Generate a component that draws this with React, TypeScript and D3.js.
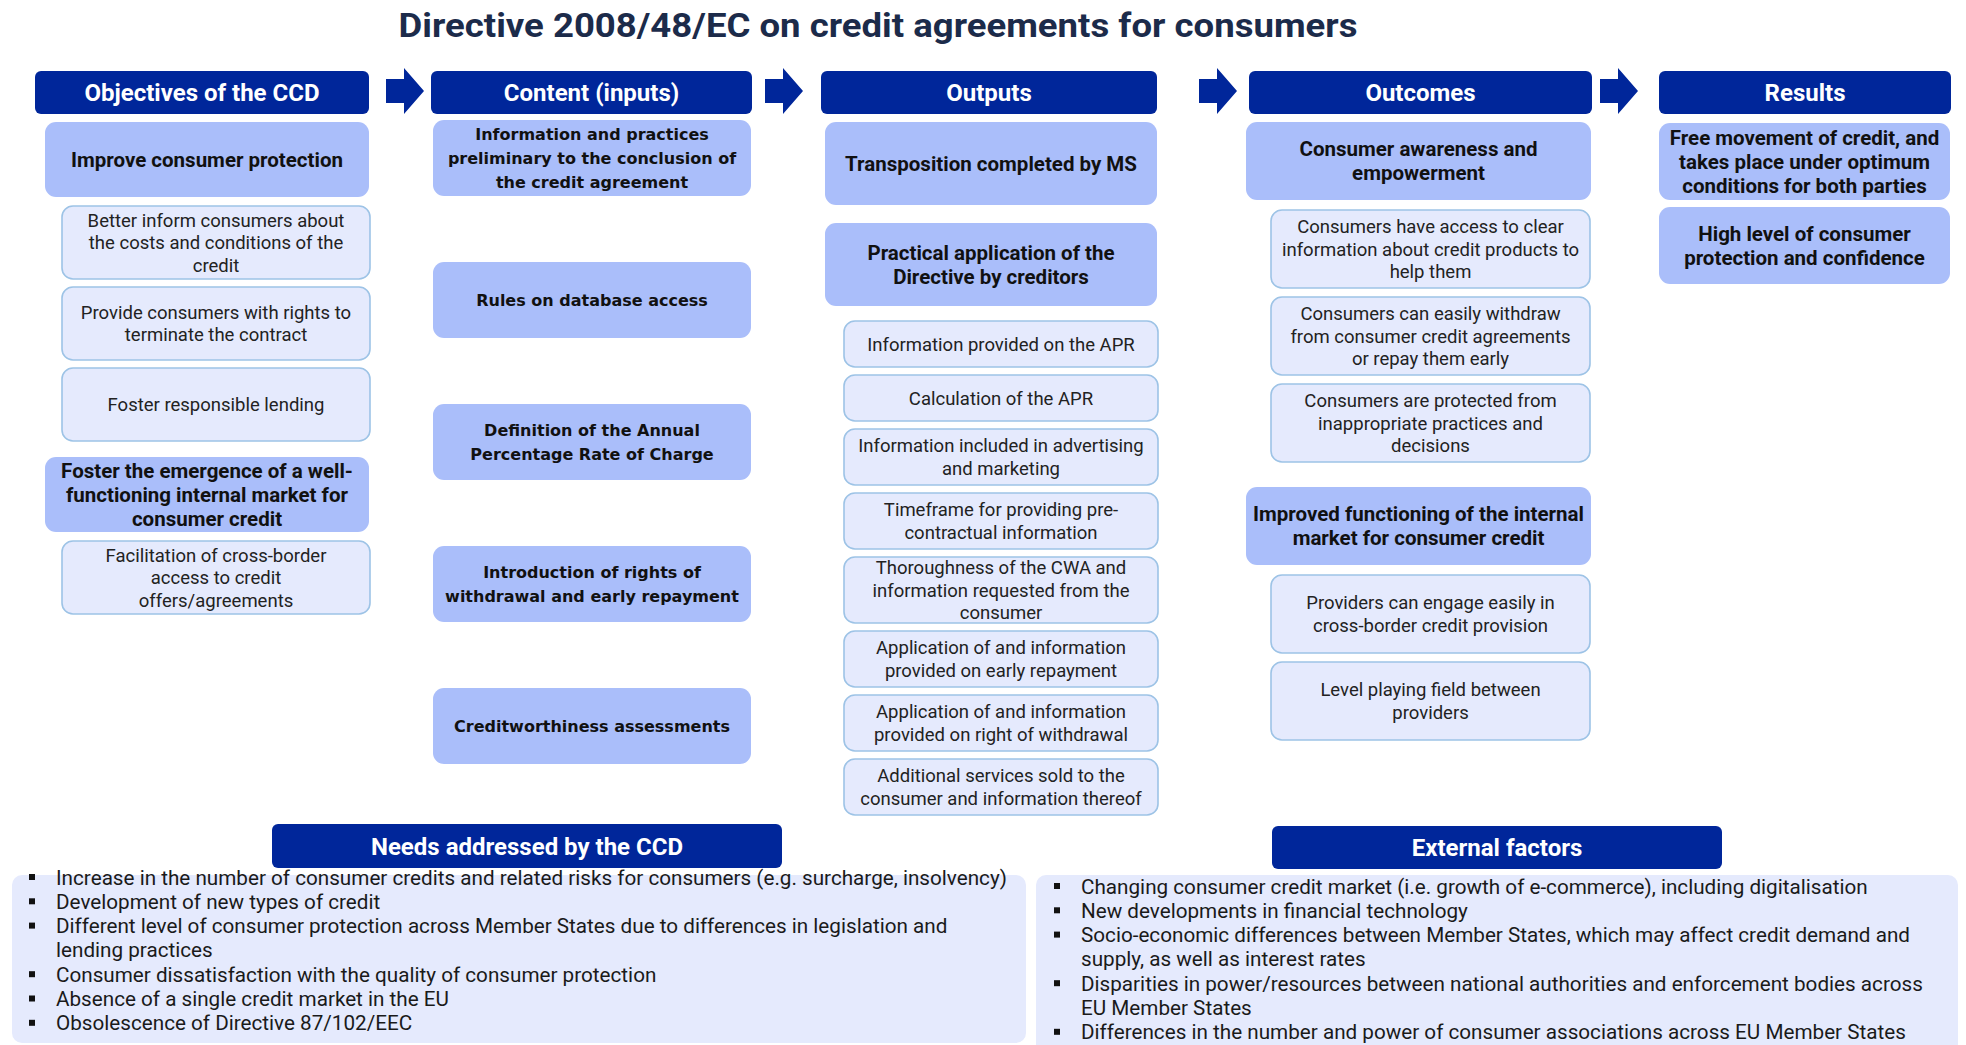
import * as d3 from 'd3';

// ---- content ----
const chartTitle = 'Directive 2008/48/EC on credit agreements for consumers';

const stageNames = ['Objectives of the CCD', 'Content (inputs)', 'Outputs', 'Outcomes', 'Results'];

type Box = { main: boolean; lines: string[] };

const objectives: Box[] = [
  { main: true, lines: ['Improve consumer protection'] },
  { main: false, lines: ['Better inform consumers about', 'the costs and conditions of the', 'credit'] },
  { main: false, lines: ['Provide consumers with rights to', 'terminate the contract'] },
  { main: false, lines: ['Foster responsible lending'] },
  { main: true, lines: ['Foster the emergence of a well-', 'functioning internal market for', 'consumer credit'] },
  { main: false, lines: ['Facilitation of cross-border', 'access to credit', 'offers/agreements'] },
];

const contents: Box[] = [
  { main: true, lines: ['Information and practices', 'preliminary to the conclusion of', 'the credit agreement'] },
  { main: true, lines: ['Rules on database access'] },
  { main: true, lines: ['Definition of the Annual', 'Percentage Rate of Charge'] },
  { main: true, lines: ['Introduction of rights of', 'withdrawal and early repayment'] },
  { main: true, lines: ['Creditworthiness assessments'] },
];

const outputs: Box[] = [
  { main: true, lines: ['Transposition completed by MS'] },
  { main: true, lines: ['Practical application of the', 'Directive by creditors'] },
  { main: false, lines: ['Information provided on the APR'] },
  { main: false, lines: ['Calculation of the APR'] },
  { main: false, lines: ['Information included in advertising', 'and marketing'] },
  { main: false, lines: ['Timeframe for providing pre-', 'contractual information'] },
  { main: false, lines: ['Thoroughness of the CWA and', 'information requested from the', 'consumer'] },
  { main: false, lines: ['Application of and information', 'provided on early repayment'] },
  { main: false, lines: ['Application of and information', 'provided on right of withdrawal'] },
  { main: false, lines: ['Additional services sold to the', 'consumer and information thereof'] },
];

const outcomes: Box[] = [
  { main: true, lines: ['Consumer awareness and', 'empowerment'] },
  { main: false, lines: ['Consumers have access to clear', 'information about credit products to', 'help them'] },
  { main: false, lines: ['Consumers can easily withdraw', 'from consumer credit agreements', 'or repay them early'] },
  { main: false, lines: ['Consumers are protected from', 'inappropriate practices and', 'decisions'] },
  { main: true, lines: ['Improved functioning of the internal', 'market for consumer credit'] },
  { main: false, lines: ['Providers can engage easily in', 'cross-border credit provision'] },
  { main: false, lines: ['Level playing field between', 'providers'] },
];

const results: Box[] = [
  { main: true, lines: ['Free movement of credit, and', 'takes place under optimum', 'conditions for both parties'] },
  { main: true, lines: ['High level of consumer', 'protection and confidence'] },
];

const needsTitle = 'Needs addressed by the CCD';
const needs: string[][] = [
  ['Increase in the number of consumer credits and related risks for consumers (e.g. surcharge, insolvency)'],
  ['Development of new types of credit'],
  ['Different level of consumer protection across Member States due to differences in legislation and', 'lending practices'],
  ['Consumer dissatisfaction with the quality of consumer protection'],
  ['Absence of a single credit market in the EU'],
  ['Obsolescence of Directive 87/102/EEC'],
];

const externalTitle = 'External factors';
const externalFactors: string[][] = [
  ['Changing consumer credit market (i.e. growth of e-commerce), including digitalisation'],
  ['New developments in financial technology'],
  ['Socio-economic differences between Member States, which may affect  credit demand and', 'supply, as well as interest rates'],
  ['Disparities in power/resources between national authorities and enforcement bodies across', 'EU Member States'],
  ['Differences in the number and power of consumer associations across EU Member States'],
];

// ---- layout & style ----
const W = 1966;
const H = 1045;
const DIN = "Roboto, 'Noto Sans', Arial, sans-serif";
const VERDANA = "'DejaVu Sans', Verdana, sans-serif";
const NAVY = '#00269A';
const MID = '#AABEFA';
const LIGHT = '#E5EAFD';
const LIGHT_STROKE = '#9DC3E6';

type Col = {
  boxes: Box[];
  header: [number, number];
  main: [number, number];
  sub: [number, number];
  top: number;
  height: (b: Box) => number;
  mm: number; ms: number; ss: number; sm: number;
  band?: [number, number];
};

const columns: Col[] = [
  { boxes: objectives, header: [35, 369], main: [45, 369], sub: [62, 370], top: 122, height: b => (b.main ? 75 : 73), mm: 14, ms: 9, ss: 8, sm: 16 },
  { boxes: contents, header: [431, 752], main: [433, 751], sub: [433, 751], top: 120, height: () => 76, mm: 0, ms: 0, ss: 0, sm: 0, band: [120, 764] },
  { boxes: outputs, header: [821, 1157], main: [825, 1157], sub: [844, 1158], top: 122, height: b => (b.main ? 83 : 36 + 10 * b.lines.length), mm: 18, ms: 15, ss: 8, sm: 15 },
  { boxes: outcomes, header: [1249, 1592], main: [1246, 1591], sub: [1271, 1590], top: 122, height: () => 78, mm: 0, ms: 10, ss: 9, sm: 25 },
  { boxes: results, header: [1659, 1951], main: [1659, 1950], sub: [1659, 1950], top: 123, height: () => 77, mm: 7, ms: 0, ss: 0, sm: 0 },
];

const arrowX = [386, 765, 1199, 1600];

type TextStyle = { family: string; size: number; weight: number; lh: number; sx: number; color: string };
const headerStyle: TextStyle = { family: DIN, size: 24, weight: 700, lh: 0, sx: 1.0, color: '#fff' };
const mainStyle: TextStyle = { family: DIN, size: 20.5, weight: 700, lh: 24, sx: 1.0, color: '#111' };
const subStyle: TextStyle = { family: DIN, size: 18.5, weight: 400, lh: 22.5, sx: 1.0, color: '#222' };
const contentStyle: TextStyle = { family: VERDANA, size: 16, weight: 700, lh: 24, sx: 1, color: '#111' };
const listStyle: TextStyle = { family: DIN, size: 21, weight: 400, lh: 24.3, sx: 0.985, color: '#1a1a1a' };

function stack(col: Col) {
  if (col.band) {
    const band = d3.scaleBand<number>().domain(d3.range(col.boxes.length)).range(col.band).paddingInner(0.465).paddingOuter(0);
    return col.boxes.map((b, i) => ({ ...b, y0: band(i)!, y1: band(i)! + band.bandwidth() }));
  }
  let y = col.top;
  return col.boxes.map((b, i) => {
    if (i > 0) {
      const p = col.boxes[i - 1];
      y += p.main ? (b.main ? col.mm : col.ms) : (b.main ? col.sm : col.ss);
    }
    const h = col.height(b);
    const out = { ...b, y0: y, y1: y + h };
    y += h;
    return out;
  });
}

const Lines = ({ cx, cy, lines, st }: { cx: number; cy: number; lines: string[]; st: TextStyle }) => (
  <>
    {lines.map((t, i) => (
      <text
        key={i}
        transform={`translate(${cx},${cy + (i - (lines.length - 1) / 2) * st.lh}) scale(${st.sx},1)`}
        textAnchor="middle"
        dy="0.36em"
        fontFamily={st.family}
        fontSize={st.size}
        fontWeight={st.weight}
        fill={st.color}
      >
        {t}
      </text>
    ))}
  </>
);

const arrowPath = d3.line()([
  [0, -12], [18, -12], [18, -23], [38, 0], [18, 23], [18, 12], [0, 12],
]) + 'Z';

const BulletList = ({ items, x, top, bulletX }: { items: string[][]; x: number; top: number; bulletX: number }) => {
  const rows: { text: string; first: boolean }[] = [];
  items.forEach(it => it.forEach((t, j) => rows.push({ text: t, first: j === 0 })));
  const y = d3.scaleLinear().domain([0, 1]).range([top, top + listStyle.lh]);
  return (
    <>
      {rows.map((r, i) => (
        <g key={i}>
          {r.first && <rect x={bulletX - 3} y={y(i) - 3} width={6} height={6} fill="#111" />}
          <text
            transform={`translate(${x},${y(i)}) scale(${listStyle.sx},1)`}
            dy="0.36em"
            fontFamily={listStyle.family}
            fontSize={listStyle.size}
            fill={listStyle.color}
          >
            {r.text}
          </text>
        </g>
      ))}
    </>
  );
};

export default function App() {
  const headerY: [number, number] = [71, 114];
  return (
    <svg width={W} height={H} style={{ position: 'absolute', left: 0, top: 0, background: '#fff' }}>
      <rect width={W} height={H} fill="#fff" />
      <text x={878} y={37} textAnchor="middle" fontFamily={DIN} fontWeight={700} fontSize={33}
        fill="#1C2B4A" textLength={959} lengthAdjust="spacingAndGlyphs">
        {chartTitle}
      </text>

      {arrowX.map((x, i) => (
        <path key={i} d={arrowPath} transform={`translate(${x},91)`} fill={NAVY} />
      ))}

      {columns.map((col, ci) => {
        const boxes = stack(col);
        const st = ci === 1 ? contentStyle : null;
        return (
          <g key={ci}>
            <rect x={col.header[0]} y={headerY[0]} width={col.header[1] - col.header[0]} height={headerY[1] - headerY[0]} rx={6} fill={NAVY} />
            <Lines cx={(col.header[0] + col.header[1]) / 2} cy={(headerY[0] + headerY[1]) / 2} lines={[stageNames[ci]]} st={headerStyle} />
            {boxes.map((b, bi) => {
              const xr = b.main ? col.main : col.sub;
              return (
                <g key={bi}>
                  <rect
                    x={xr[0]} y={b.y0} width={xr[1] - xr[0]} height={b.y1 - b.y0} rx={11}
                    fill={b.main ? MID : LIGHT}
                    stroke={b.main ? 'none' : LIGHT_STROKE} strokeWidth={1.6}
                  />
                  <Lines cx={(xr[0] + xr[1]) / 2} cy={(b.y0 + b.y1) / 2} lines={b.lines} st={st ?? (b.main ? mainStyle : subStyle)} />
                </g>
              );
            })}
          </g>
        );
      })}

      {/* needs */}
      <rect x={12} y={875} width={1014} height={168} rx={10} fill={LIGHT} />
      <rect x={272} y={824} width={510} height={44} rx={6} fill={NAVY} />
      <Lines cx={527} cy={846} lines={[needsTitle]} st={headerStyle} />
      <BulletList items={needs} x={56} top={877} bulletX={32} />

      {/* external factors */}
      <rect x={1036} y={875} width={922} height={180} rx={10} fill={LIGHT} />
      <rect x={1272} y={826} width={450} height={43} rx={6} fill={NAVY} />
      <Lines cx={1497} cy={847.5} lines={[externalTitle]} st={headerStyle} />
      <BulletList items={externalFactors} x={1081} top={886} bulletX={1057} />
    </svg>
  );
}
